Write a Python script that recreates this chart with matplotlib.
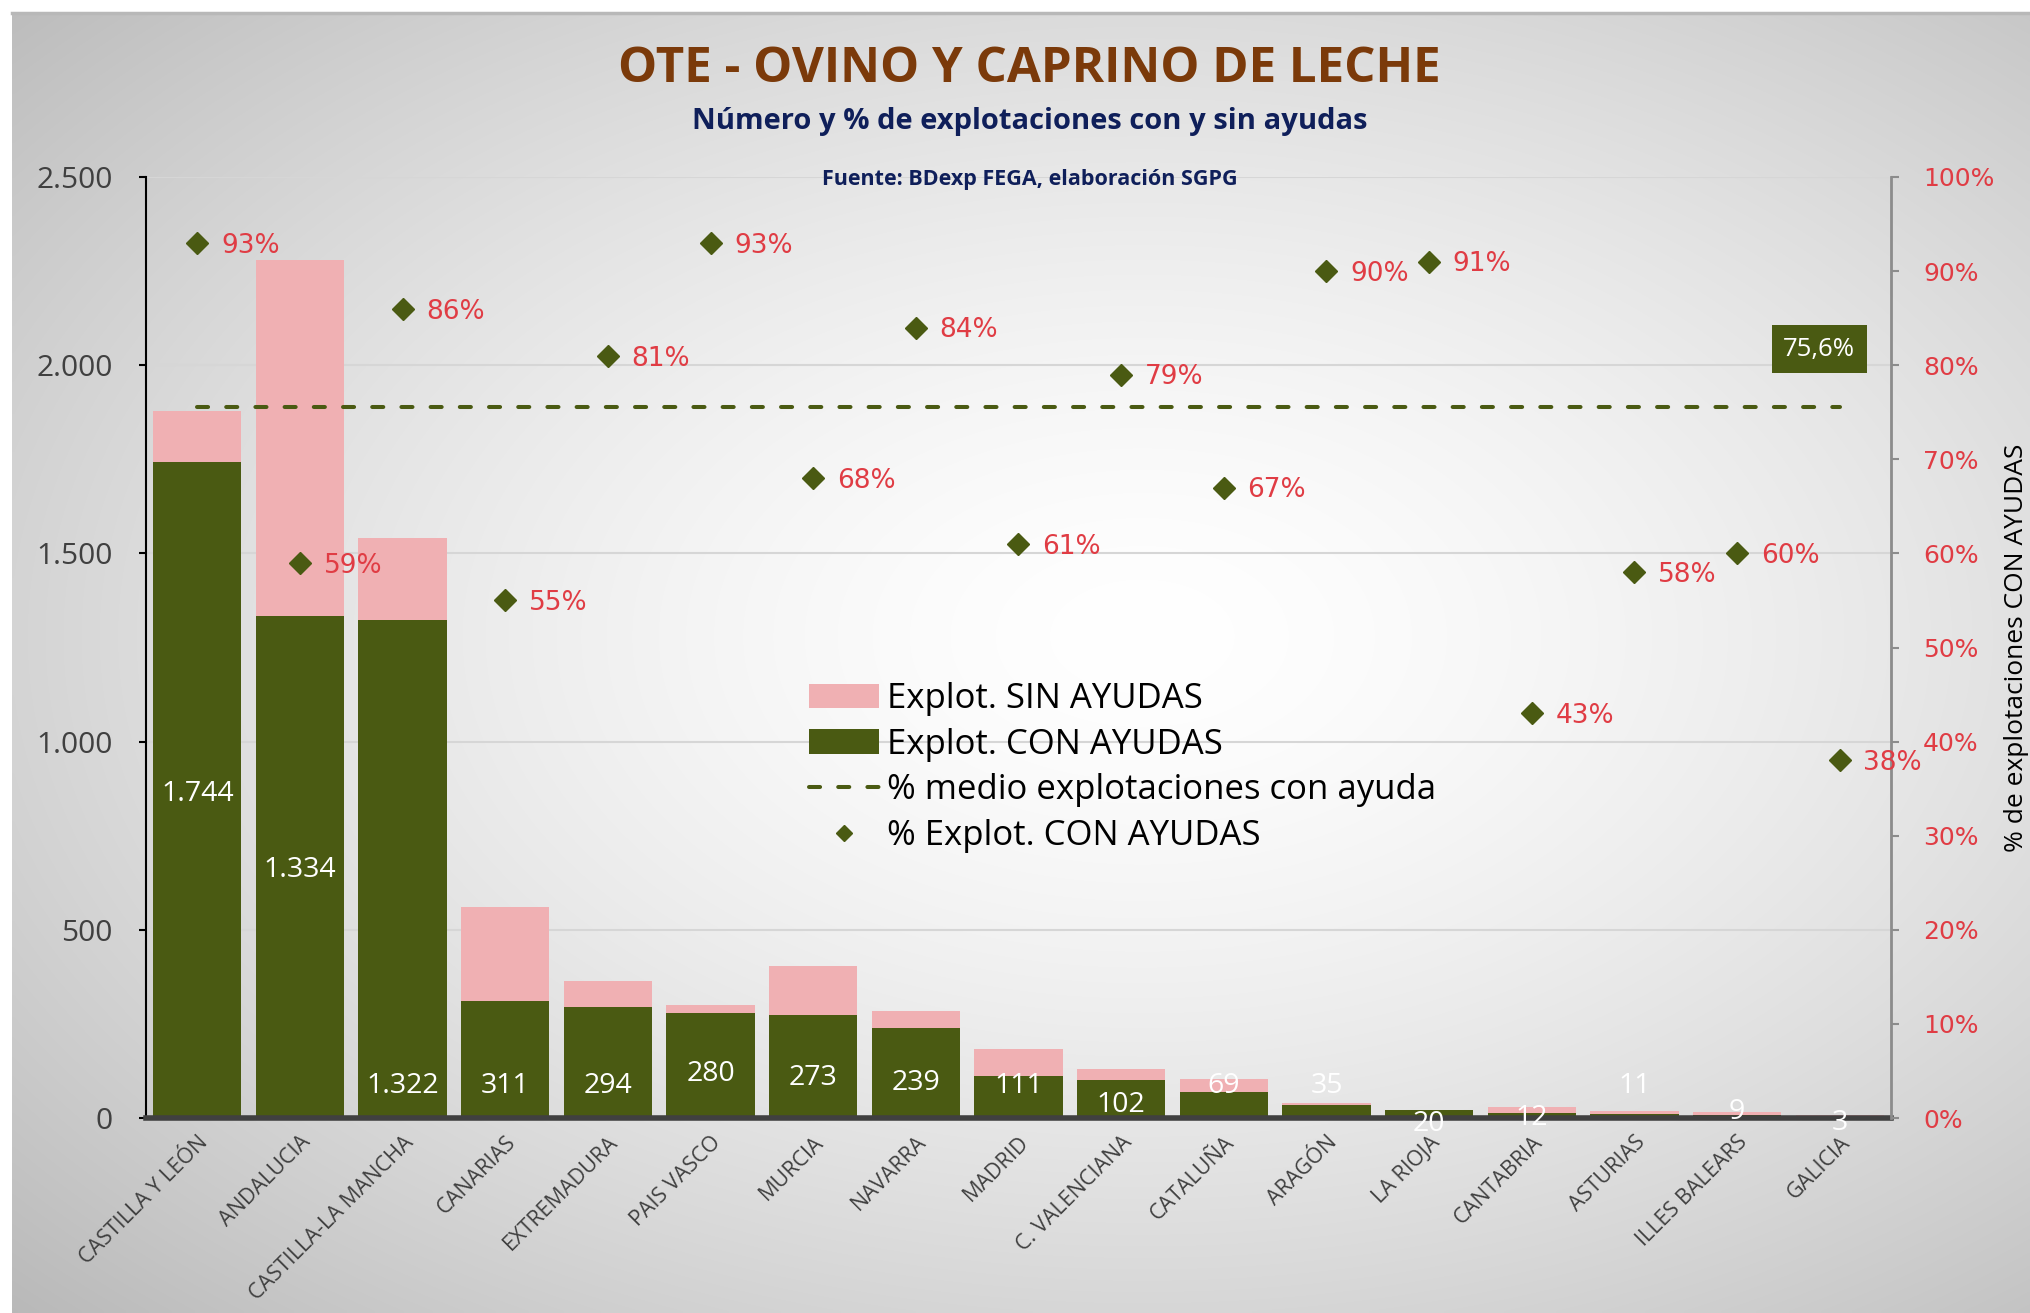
import numpy as np
import matplotlib
matplotlib.use('Agg')
import matplotlib.pyplot as plt
from matplotlib.patches import Patch
from matplotlib.lines import Line2D
from matplotlib.ticker import FuncFormatter

# ---------------- data ----------------
categorias = ["CASTILLA Y LEÓN", "ANDALUCIA", "CASTILLA-LA MANCHA", "CANARIAS",
              "EXTREMADURA", "PAIS VASCO", "MURCIA", "NAVARRA", "MADRID",
              "C. VALENCIANA", "CATALUÑA", "ARAGÓN", "LA RIOJA", "CANTABRIA",
              "ASTURIAS", "ILLES BALEARS", "GALICIA"]
con_ayudas = [1744, 1334, 1322, 311, 294, 280, 273, 239, 111, 102, 69, 35, 20, 12, 11, 9, 3]
sin_ayudas = [134, 946, 220, 250, 71, 20, 130, 46, 73, 28, 35, 4, 2, 16, 8, 6, 5]
pct_con = [93, 59, 86, 55, 81, 93, 68, 84, 61, 79, 67, 90, 91, 43, 58, 60, 38]
pct_medio = 75.6

# label placement (y in data units of left axis) for the value labels
pos_etiquetas = [861, 658, 86, 86, 86, 117, 107, 93, 86, 34, 86, 86, -17, 0, 86, 17, -14]

GREEN = '#4A5A12'
PINK = '#F0B0B3'
RED = '#E03C44'
GRAY = '#404040'

W, H = 2031, 1313
fig = plt.figure(figsize=(W / 100, H / 100), dpi=100)
fig.patch.set_facecolor('white')

# ---------------- background gradient ----------------
x0 = 12 / W
y0 = 12 / H
bg = fig.add_axes([x0, 0, 1 - x0, 1 - y0], zorder=-10)
gh, gw = 300, 460
yy, xx = np.mgrid[0:1:gh * 1j, 0:1:gw * 1j]
cx, cy = 0.56, 0.52
r = np.sqrt(((xx - cx) / 0.75) ** 2 + ((yy - cy) / 0.72) ** 2)
v = np.clip(1 - 0.26 * r ** 1.5, 0, 1)
img = np.dstack([v, v, v])
bg.imshow(img, aspect='auto', extent=[0, 1, 0, 1], origin='lower', interpolation='bilinear')
bg.set_xlim(0, 1); bg.set_ylim(0, 1)
bg.axis('off')
bg.plot([0, 1], [0.999, 0.999], color='#B8B8B8', lw=2.5, transform=bg.transAxes, clip_on=False)

# ---------------- main axes ----------------
L, R, B, T = 146 / W, 1891 / W, 1 - 1118 / H, 1 - 177 / H
ax = fig.add_axes([L, B, R - L, T - B])
ax.patch.set_alpha(0)
x = np.arange(len(categorias))
ax.bar(x, con_ayudas, width=0.86, color=GREEN, zorder=3, label='Explot. CON AYUDAS')
ax.bar(x, sin_ayudas, width=0.86, bottom=con_ayudas, color=PINK, zorder=3, label='Explot. SIN AYUDAS')
ax.set_xlim(-0.5, len(categorias) - 0.5)
ax.set_ylim(0, 2500)
ax.set_yticks(np.arange(0, 2501, 500))
ax.yaxis.set_major_formatter(FuncFormatter(lambda v, p: f"{int(v):,}".replace(',', '.')))
ax.grid(axis='y', color='#D6D6D6', lw=1.5, zorder=0)
ax.tick_params(axis='y', direction='out', length=5, width=1.5, color='black', pad=19,
               labelsize=21.5, labelcolor=GRAY)
for t in ax.get_yticklabels():
    t.set_family('Open Sans')
ax.set_xticks(x)
ax.set_xticklabels(categorias, rotation=45, ha='right', rotation_mode='anchor',
                   fontsize=15.5, color=GRAY, family='Open Sans')
ax.tick_params(axis='x', length=0, pad=10)
for s in ['top', 'right']:
    ax.spines[s].set_visible(False)
ax.spines['left'].set_color('black')
ax.spines['left'].set_linewidth(1.5)
ax.spines['bottom'].set_color('#404040')
ax.spines['bottom'].set_linewidth(4)
ax.spines['bottom'].set_zorder(5)

for i, (val, py) in enumerate(zip(con_ayudas, pos_etiquetas)):
    ax.text(i, py, f"{val:,}".replace(',', '.'), ha='center', va='center', color='white',
            fontsize=20.5, family='Open Sans', zorder=6, clip_on=False)

# ---------------- secondary axis ----------------
ax2 = ax.twinx()
ax2.patch.set_alpha(0)
ax2.set_ylim(0, 100)
ax2.set_yticks(np.arange(0, 101, 10))
ax2.set_yticklabels([f"{v}%" for v in range(0, 101, 10)], family='DejaVu Sans')
ax2.tick_params(axis='y', direction='out', length=6, width=1.5, color='#8C8C8C', pad=17,
                labelsize=18, labelcolor=RED)
for s in ['top', 'left', 'bottom']:
    ax2.spines[s].set_visible(False)
ax2.spines['right'].set_color('#8C8C8C')
ax2.spines['right'].set_linewidth(2)

ax2.plot(x, pct_con, ls='none', marker='D', markersize=11, color=GREEN, zorder=5,
         label='% Explot. CON AYUDAS')
for i, p in enumerate(pct_con):
    ax2.annotate(f"{p}%", (i, p), xytext=(17, -2), textcoords='offset points',
                 ha='left', va='center', color=RED, fontsize=19, family='DejaVu Sans',
                 annotation_clip=False)

ax2.plot([x[0], x[-1]], [pct_medio, pct_medio], color=GREEN, lw=2.9, dashes=(2.75, 4.5),
         dash_capstyle='round', zorder=4, label='% medio explotaciones con ayuda')
ax2.text(15.8, 81.7, f"{pct_medio:.1f}%".replace('.', ','), ha='center', va='center',
         color='white', fontsize=18.5, family='Open Sans',
         bbox=dict(boxstyle='square,pad=0.45', facecolor=GREEN, edgecolor='none'), zorder=6)

# right axis label
fig.text(2029 / W, (B + T) / 2, '% de explotaciones CON AYUDAS', rotation=90,
         ha='right', va='center', fontsize=19, family='Open Sans', color='black')

# ---------------- legend ----------------
handles = [Patch(facecolor=PINK, edgecolor='none'),
           Patch(facecolor=GREEN, edgecolor='none'),
           Line2D([], [], color=GREEN, lw=2.9, dashes=(2.75, 4.5), dash_capstyle='round'),
           Line2D([], [], ls='none', marker='D', markersize=8, color=GREEN)]
labels = ['Explot. SIN AYUDAS', 'Explot. CON AYUDAS',
          '% medio explotaciones con ayuda', '% Explot. CON AYUDAS']
leg = ax2.legend(handles, labels, loc='upper left', bbox_to_anchor=(0.38, 0.463),
                 frameon=False, prop={'family': 'Open Sans', 'size': 25},
                 handlelength=2.0, handleheight=0.7, handletextpad=0.25,
                 labelspacing=0.33, borderpad=0, borderaxespad=0)
leg.set_zorder(10)

# ---------------- titles ----------------
fig.text(0.507, 1 - 70 / H, 'OTE - OVINO Y CAPRINO DE LECHE', ha='center', va='center',
         fontsize=35.5, fontweight='bold', color='#7B3A0A', family='Open Sans')
fig.text(0.507, 1 - 121 / H, 'Número y % de explotaciones con y sin ayudas', ha='center',
         va='center', fontsize=21, fontweight='bold', color='#0F1F5A', family='Open Sans')
fig.text(0.507, 1 - 179 / H, 'Fuente: BDexp FEGA, elaboración SGPG', ha='center',
         va='center', fontsize=15.5, fontweight='bold', color='#0F1F5A', family='Open Sans')

fig.savefig('out.png', dpi=100)
